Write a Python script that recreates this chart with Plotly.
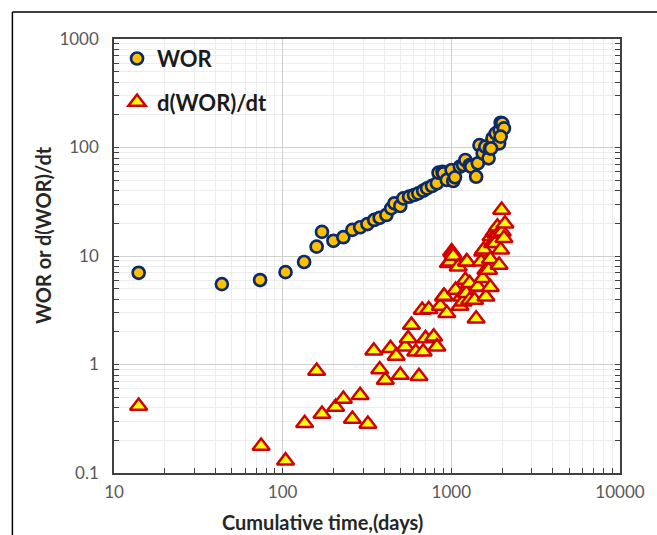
import plotly.graph_objects as go

# ---- data ----
wor_t = [14.0, 43.6, 73.5, 104, 134, 159, 171, 200, 229, 259, 288, 318, 349, 376, 412,
         440, 460, 498, 519, 562, 601, 637, 681, 718, 768, 821, 840, 887, 898, 940,
         1004, 1027, 1051, 1124, 1175, 1211, 1284, 1312, 1403, 1436, 1469, 1535, 1591,
         1663, 1692, 1754, 1834, 1919, 1935, 1961, 2005, 2051, 1961, 1720]
wor_v = [7.0, 5.5, 6.0, 7.1, 8.8, 12.2, 16.7, 13.8, 14.9, 17.4, 18.4, 19.7, 21.5, 22.5, 23.9,
         27.5, 30.6, 28.9, 34.0, 35.2, 36.5, 37.8, 40.0, 42.0, 44.2, 46.8, 58.6, 59.8, 57.8, 50.2,
         62.0, 49.1, 53.1, 66.5, 69.0, 76.7, 69.0, 66.5, 53.8, 71.5, 105, 88.4, 101.7,
         79.5, 98.3, 121.6, 135, 109, 145, 169, 167, 150, 126, 98.0]

dwor_t = [14.0, 74.5, 104, 135, 159, 171, 206, 229, 259, 288, 320,
          347, 376, 406, 436, 471, 498, 533, 555, 580, 615, 643, 672, 681, 703, 735,
          786, 821, 860, 898, 907, 940, 960, 983, 1004, 1018, 1027, 1060, 1098, 1124,
          1148, 1175, 1211, 1228, 1228, 1239, 1284, 1284, 1373, 1403, 1436, 1436, 1500,
          1535, 1535, 1556, 1604, 1604, 1663, 1702, 1702, 1720, 1754, 1795, 1820, 1834,
          1875, 1901, 1919, 1961, 1987, 2005, 2051, 2080]
dwor_v = [0.415, 0.177, 0.130, 0.287, 0.871, 0.35, 0.405, 0.48, 0.315, 0.52, 0.283,
          1.34, 0.90, 0.72, 1.41, 1.20, 0.80, 1.46, 1.74, 2.31, 1.31, 0.78, 3.18, 1.31, 1.74, 3.23,
          1.80, 1.46, 3.46, 4.22, 4.27, 2.97, 8.57, 8.85, 10.97, 10.6, 10.0, 4.86, 7.96, 3.46,
          4.22, 3.79, 6.0, 8.85, 4.53, 8.85, 3.93, 5.6, 3.93, 2.64, 5.14, 5.21, 8.85,
          10.97, 6.22, 11.4, 7.43, 4.22, 7.43, 9.33, 5.14, 15.1, 13.1, 16.7, 13.1, 16.0,
          18.6, 16.2, 8.26, 11.4, 26.5, 16.7, 14.6, 19.8]

x_ticks = [10, 100, 1000, 10000]
x_tick_text = ["10", "100", "1000", "10000"]
y_ticks = [0.1, 1, 10, 100, 1000]
y_tick_text = ["0.1", "1", "10", "100", "1000"]

FONT = "Lato"

def minor_vals(lo_exp, hi_exp):
    vals = []
    for e in range(lo_exp, hi_exp):
        for m in range(2, 10):
            vals.append(m * 10 ** e)
    return vals

fig = go.Figure()
fig.add_trace(go.Scatter(
    x=wor_t, y=wor_v, mode="markers", name="WOR", legendgroup="a",
    marker=dict(symbol="circle", size=12, color="#FFC000",
                line=dict(color="#0B2A6B", width=2.7)),
))
fig.add_trace(go.Scatter(
    x=dwor_t, y=dwor_v, mode="markers", name="d(WOR)/dt", legendgroup="b",
    marker=dict(symbol="triangle-up", size=15, color="#FFFF00",
                line=dict(color="#D00000", width=2.5)),
))

axis_common = dict(
    type="log", showline=True, linecolor="#404040", linewidth=1.5,
    ticks="inside", ticklen=5, tickcolor="#404040",
    showgrid=True, gridcolor="#D0D0D0", gridwidth=1,
    tickfont=dict(family=FONT, size=17, color="#595959"),
    zeroline=False,
)

fig.update_xaxes(
    **axis_common, range=[1, 4], tickvals=x_ticks, ticktext=x_tick_text, mirror=True,
    ticklabelstandoff=3,
    minor=dict(tickvals=minor_vals(1, 4), ticks="inside", ticklen=5, tickcolor="#404040",
               showgrid=True, gridcolor="#EDEDED", gridwidth=1),
)
fig.update_yaxes(
    **axis_common, range=[-1, 3], tickvals=y_ticks, ticktext=y_tick_text, mirror="ticks",
    ticklabelstandoff=10,
    minor=dict(tickvals=minor_vals(-1, 3), ticks="inside", ticklen=5, tickcolor="#404040",
               showgrid=True, gridcolor="#EDEDED", gridwidth=1),
)

fig.update_layout(
    width=657, height=535,
    margin=dict(l=114, r=30, t=39, b=62),
    plot_bgcolor="white", paper_bgcolor="white",
    showlegend=True,
    legend=dict(x=0.006, y=1.003, xanchor="left", yanchor="top",
                bgcolor="rgba(0,0,0,0)", tracegroupgap=12, itemwidth=30,
                font=dict(family=FONT, size=22, color="#1a1a1a", weight="bold")),
    font=dict(family=FONT),
    annotations=[
        dict(text="<b>Cumulative time,(days)</b>", xref="paper", yref="paper",
             x=(325 - 114) / 513, y=(473 - 522) / 434, xanchor="center", yanchor="middle",
             showarrow=False, font=dict(family=FONT, size=20, color="#262626")),
        dict(text="<b>WOR or d(WOR)/dt</b>", xref="paper", yref="paper",
             x=(42 - 114) / 513, y=(473 - 235) / 434, xanchor="center", yanchor="middle",
             textangle=-90, showarrow=False, font=dict(family=FONT, size=20, color="#262626")),
    ],
    shapes=[
        dict(type="line", xref="paper", yref="paper", x0=(11 - 114) / 513, x1=1.2,
             y0=(473 - 12) / 434, y1=(473 - 12) / 434, line=dict(color="black", width=1.5)),
        dict(type="line", xref="paper", yref="paper", x0=(11 - 114) / 513, x1=(11 - 114) / 513,
             y0=(473 - 12) / 434, y1=-0.3, line=dict(color="black", width=1.5)),
    ],
)

fig.write_html("out.html")
